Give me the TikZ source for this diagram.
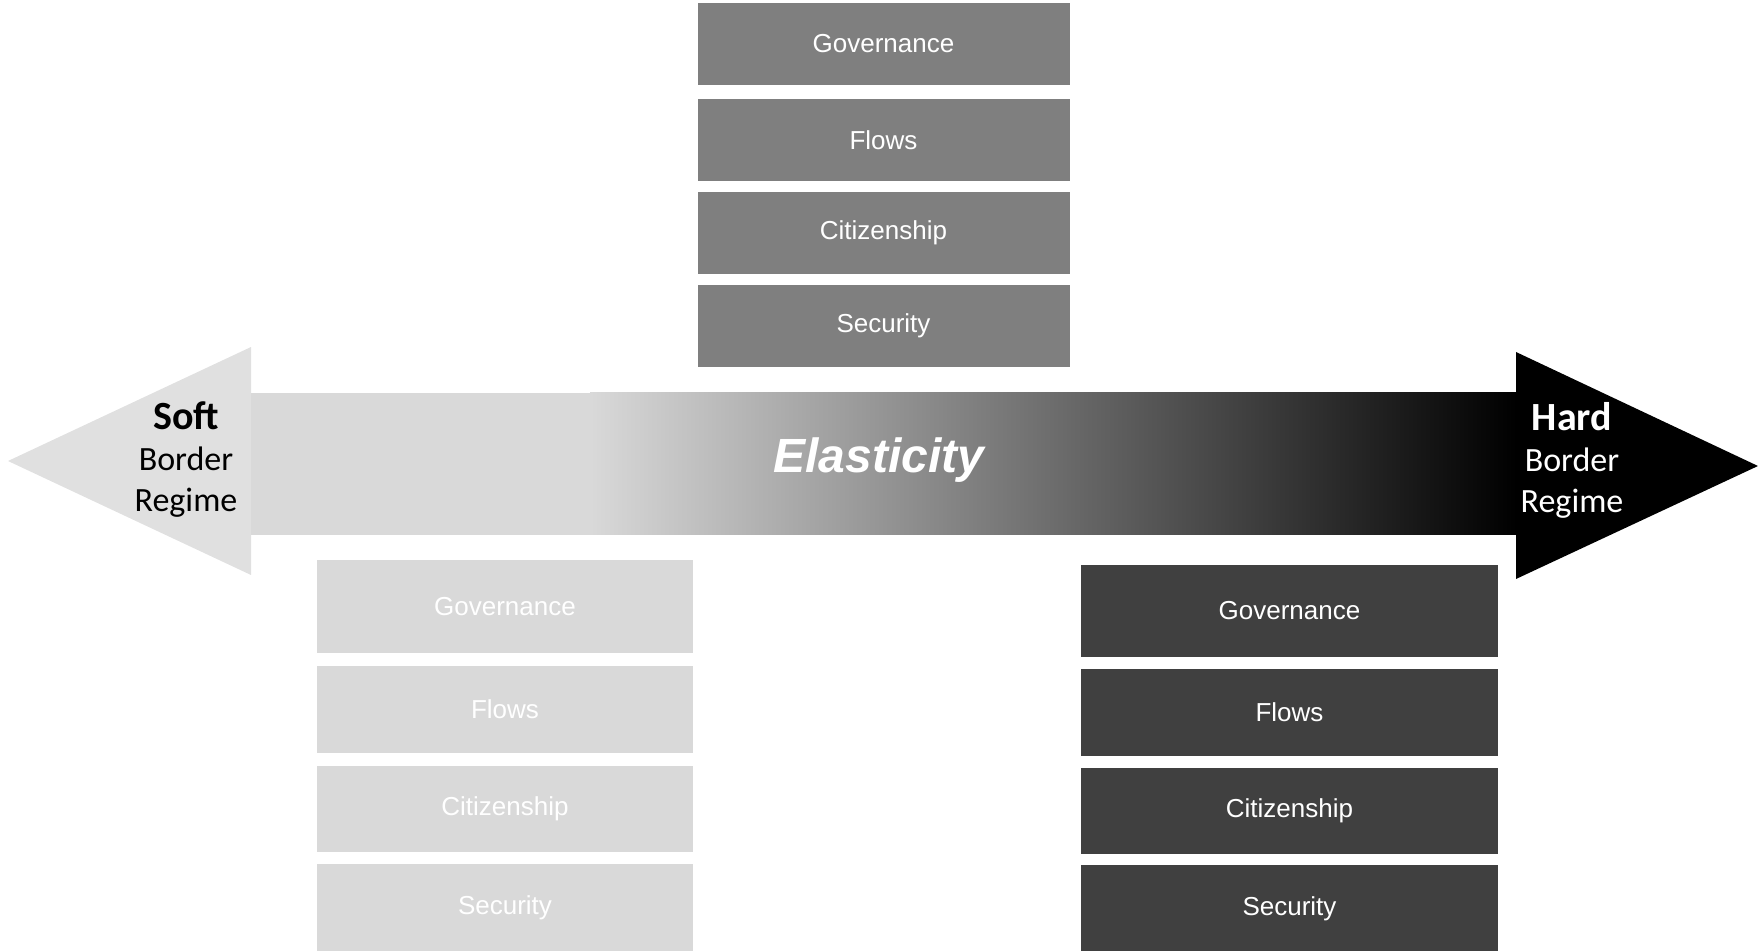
\documentclass[tikz,border=0pt]{standalone}
\usepackage{fontspec}
\setmainfont{Liberation Sans}
\newfontfamily\calibri{Carlito}
\usetikzlibrary{positioning}

\definecolor{softgray}{HTML}{D9D9D9}
\definecolor{headgray}{HTML}{E0E0E0}
\definecolor{midgray}{HTML}{7F7F7F}
\definecolor{hardgray}{HTML}{404040}

\newcommand{\bigword}[1]{{\fontsize{20}{22}\selectfont\textbf{#1}}}

\begin{document}
\begin{tikzpicture}[x=0.5pt, y=-0.5pt]
	\tikzstyle{dim} = [text=white, font=\fontsize{13}{15}\selectfont, inner sep=0pt]
	\tikzstyle{regime} = [align=center, font=\calibri\fontsize{17}{20.5}\selectfont]

	\useasboundingbox (0,0) rectangle (1758,951);

	% the arrow: flat light part, then the shading towards black
	\fill[headgray] (251,347) -- (8,461) -- (251,575) -- cycle;
	\fill[softgray] (251,393) rectangle (591,535);
	\shade[left color=softgray, right color=black] (590,393) rectangle (1517,535);
	\fill[black] (1516,352) -- (1758,466) -- (1516,579) -- cycle;

	\node[regime] (soft) at (186,460) {\bigword{Soft}\\Border\\Regime};
	\node[regime, text=white] (hard) at (1572,460) {\bigword{Hard}\\Border\\Regime};
	\node[text=white, font=\bfseries\itshape\fontsize{24}{27}\selectfont] (elast) at (879,460) {Elasticity};

	% three sets of dimensions
	\foreach \name/\y/\txt in {gov/44/Governance, flo/140/Flows, cit/233/Citizenship, sec/326/Security}
		\node[dim, fill=midgray, minimum width=186pt, minimum height=41pt] (mid-\name) at (883.5,\y) {\txt};

	\foreach \name/\y/\h/\txt in {gov/606.5/46.5/Governance, flo/709.5/43.5/Flows, cit/809/43/Citizenship, sec/908/44/Security}
		\node[dim, fill=softgray, minimum width=188pt, minimum height=\h pt] (soft-\name) at (505,\y) {\txt};

	\foreach \name/\y/\h/\txt in {gov/611/46/Governance, flo/712.5/43.5/Flows, cit/811/43/Citizenship, sec/909/44/Security}
		\node[dim, fill=hardgray, minimum width=208.5pt, minimum height=\h pt] (hard-\name) at (1289.5,\y) {\txt};
\end{tikzpicture}
\end{document}
